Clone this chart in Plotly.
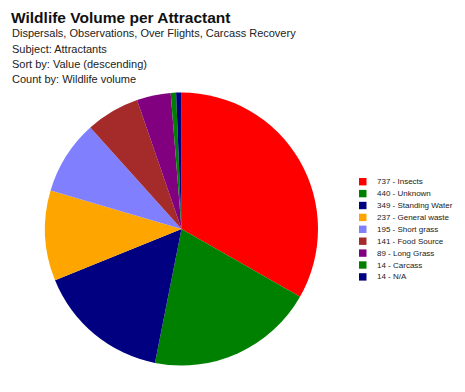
import plotly.graph_objects as go

# The page body has an 8px default margin; the figure is sized to fit the
# 465x392 window and all positions below are given in window pixels.
OFF = 8
W, H = 465 - 2 * OFF, 392 - 2 * OFF

categories = ["Insects", "Unknown", "Standing Water", "General waste", "Short grass",
              "Food Source", "Long Grass", "Carcass", "N/A"]
values = [737, 440, 349, 237, 195, 141, 89, 14, 14]
colors = ["#FF0000", "#008000", "#000080", "#FFA500", "#8080FF",
          "#A52A2A", "#800080", "#008000", "#000080"]

title_text = "Wildlife Volume per Attractant"
subtitle_lines = [
    "Dispersals, Observations, Over Flights, Carcass Recovery",
    "Subject: Attractants",
    "Sort by: Value (descending)",
    "Count by: Wildlife volume",
]

FONT = "Liberation Sans, Arial, sans-serif"


def px(x):
    return (x - OFF) / W


def py(y):
    return 1 - (y - OFF) / H


# pie geometry (window pixels)
cx, cy, r = 181.5, 229.0, 136.5

fig = go.Figure()
fig.add_trace(go.Pie(
    labels=categories,
    values=values,
    sort=False,
    direction="clockwise",
    rotation=0,
    marker=dict(colors=colors, line=dict(width=0)),
    textinfo="none",
    showlegend=False,
    domain=dict(x=[px(cx - r), px(cx + r)], y=[py(cy + r), py(cy - r)]),
))

annotations = []
shapes = []

annotations.append(dict(
    text=f"<b>{title_text}</b>", x=px(10), y=py(OFF), xref="paper", yref="paper",
    xanchor="left", yanchor="top", showarrow=False, borderpad=0,
    font=dict(family=FONT, size=15.5, color="#111111"),
))
for i, line in enumerate(subtitle_lines):
    annotations.append(dict(
        text=line, x=px(10), y=py(33 + 15.5 * i), xref="paper", yref="paper",
        xanchor="left", yanchor="middle", showarrow=False,
        font=dict(family=FONT, size=11, color="#222222"),
    ))

# custom compact legend
for i, (cat, val, col) in enumerate(zip(categories, values, colors)):
    yc = 181.7 + 11.9 * i
    shapes.append(dict(
        type="rect", xref="paper", yref="paper",
        x0=px(359), x1=px(366.5), y0=py(yc + 3.7), y1=py(yc - 3.7),
        fillcolor=col, line=dict(width=0),
    ))
    annotations.append(dict(
        text=f"{val} - {cat}", x=px(374.5), y=py(yc), xref="paper", yref="paper",
        xanchor="left", yanchor="middle", showarrow=False,
        font=dict(family=FONT, size=8, color="#222222"),
    ))

fig.update_layout(
    width=W, height=H,
    margin=dict(l=0, r=0, t=0, b=0),
    paper_bgcolor="white",
    plot_bgcolor="white",
    annotations=annotations,
    shapes=shapes,
    showlegend=False,
)

fig.write_html("out.html")
